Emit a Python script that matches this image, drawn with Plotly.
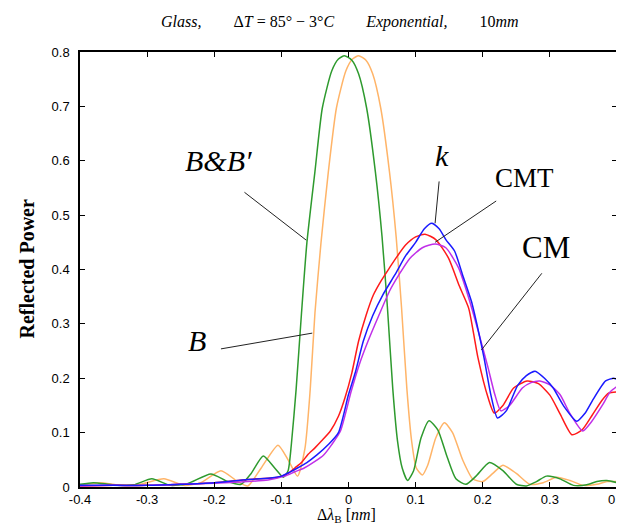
import plotly.graph_objects as go

# ---------------- data ----------------
# B&B' (green)
x_green = [-0.40, -0.38, -0.35, -0.32, -0.293, -0.265, -0.24, -0.205, -0.18, -0.16, -0.145, -0.127, -0.11,
           -0.097, -0.09, -0.085, -0.078, -0.07, -0.062, -0.05, -0.039, -0.025, -0.015, -0.006, 0.005, 0.015,
           0.027, 0.04, 0.05, 0.058, 0.066, 0.073, 0.08, 0.088, 0.097, 0.108, 0.12, 0.133, 0.147, 0.16, 0.175,
           0.19, 0.21, 0.23, 0.25, 0.265, 0.28, 0.295, 0.315, 0.335, 0.355, 0.37, 0.385, 0.40]
y_green = [0.005, 0.008, 0.004, 0.004, 0.015, 0.003, 0.006, 0.024, 0.01, 0.005, 0.025, 0.057, 0.035,
           0.018, 0.03, 0.08, 0.18, 0.32, 0.449, 0.58, 0.697, 0.765, 0.787, 0.793, 0.785, 0.76,
           0.697, 0.58, 0.46, 0.33, 0.18, 0.085, 0.035, 0.012, 0.03, 0.09, 0.122, 0.105, 0.055, 0.015, 0.005,
           0.02, 0.045, 0.03, 0.005, 0.002, 0.01, 0.02, 0.015, 0.003, 0.004, 0.01, 0.012, 0.008]

# B (orange)
x_orange = [-0.40, -0.37, -0.34, -0.31, -0.275, -0.245, -0.22, -0.19, -0.165, -0.15, -0.13, -0.105, -0.09,
            -0.076, -0.065, -0.057, -0.05, -0.041, -0.03, -0.018, -0.004, 0.006, 0.015, 0.026, 0.036, 0.048,
            0.061, 0.071, 0.079, 0.087, 0.094, 0.101, 0.11, 0.118, 0.13, 0.143, 0.155, 0.17, 0.185, 0.2,
            0.215, 0.23, 0.25, 0.27, 0.29, 0.31, 0.33, 0.35, 0.37, 0.385, 0.40]
y_orange = [0.003, 0.008, 0.003, 0.005, 0.015, 0.003, 0.008, 0.03, 0.01, 0.002, 0.035, 0.077, 0.05,
            0.02, 0.07, 0.18, 0.32, 0.449, 0.58, 0.697, 0.765, 0.787, 0.793, 0.785, 0.76, 0.697,
            0.58, 0.46, 0.33, 0.18, 0.085, 0.035, 0.022, 0.04, 0.09, 0.118, 0.1, 0.05, 0.015, 0.01,
            0.025, 0.04, 0.025, 0.005, 0.008, 0.018, 0.012, 0.003, 0.005, 0.01, 0.01]

# CMT (red)
x_red = [-0.40, -0.35, -0.30, -0.25, -0.20, -0.15, -0.12, -0.105, -0.09, -0.08, -0.07, -0.061, -0.05, -0.04,
         -0.027, -0.015, -0.005, 0.005, 0.015, 0.026, 0.037, 0.049, 0.061, 0.073, 0.085, 0.1, 0.114, 0.13,
         0.149, 0.165, 0.179, 0.186, 0.193, 0.208, 0.217, 0.23, 0.246, 0.266, 0.283, 0.3, 0.315, 0.333,
         0.348, 0.363, 0.378, 0.388, 0.40]
y_red = [0.002, 0.003, 0.003, 0.005, 0.008, 0.014, 0.016, 0.018, 0.025, 0.035, 0.045, 0.059, 0.072, 0.085,
         0.103, 0.13, 0.165, 0.21, 0.268, 0.315, 0.353, 0.38, 0.403, 0.425, 0.445, 0.46, 0.465, 0.455,
         0.421, 0.37, 0.329, 0.285, 0.237, 0.164, 0.136, 0.15, 0.182, 0.195, 0.19, 0.169, 0.135, 0.096,
         0.105, 0.132, 0.16, 0.173, 0.175]

# CM (magenta)
x_mag = [-0.40, -0.35, -0.30, -0.25, -0.20, -0.15, -0.12, -0.095, -0.08, -0.066, -0.05, -0.037, -0.025,
         -0.012, 0.004, 0.016, 0.029, 0.045, 0.061, 0.075, 0.091, 0.11, 0.129, 0.145, 0.164, 0.176, 0.188,
         0.198, 0.208, 0.218, 0.227, 0.24, 0.259, 0.272, 0.285, 0.3, 0.315, 0.33, 0.349, 0.362, 0.378,
         0.39, 0.40]
y_mag = [0.002, 0.003, 0.003, 0.005, 0.007, 0.01, 0.013, 0.02, 0.028, 0.035, 0.047, 0.059, 0.078,
         0.103, 0.176, 0.225, 0.268, 0.315, 0.36, 0.39, 0.42, 0.44, 0.447, 0.44, 0.403, 0.36, 0.31,
         0.265, 0.219, 0.17, 0.14, 0.15, 0.182, 0.192, 0.195, 0.188, 0.17, 0.135, 0.103, 0.12, 0.15,
         0.175, 0.185]

# k (blue)
x_blue = [-0.40, -0.35, -0.30, -0.25, -0.20, -0.15, -0.12, -0.1, -0.088, -0.076, -0.062, -0.047, -0.03,
          -0.015, 0.0, 0.01, 0.022, 0.036, 0.051, 0.069, 0.085, 0.1, 0.113, 0.124, 0.135, 0.145, 0.158,
          0.17, 0.183, 0.193, 0.202, 0.212, 0.222, 0.235, 0.252, 0.265, 0.278, 0.292, 0.305, 0.32, 0.34,
          0.352, 0.363, 0.383, 0.395, 0.40]
y_blue = [0.003, 0.003, 0.003, 0.005, 0.008, 0.014, 0.016, 0.02, 0.027, 0.035, 0.045, 0.059, 0.078,
          0.1, 0.17, 0.21, 0.268, 0.315, 0.353, 0.39, 0.425, 0.45, 0.475, 0.485, 0.475, 0.455, 0.434,
          0.39, 0.342, 0.29, 0.237, 0.17, 0.127, 0.14, 0.187, 0.205, 0.213, 0.2, 0.182, 0.15, 0.121,
          0.135, 0.158, 0.195, 0.2, 0.198]

x_tickvals = [-0.4, -0.3, -0.2, -0.1, 0, 0.1, 0.2, 0.3, 0.4]
x_ticktext = ["-0.4", "-0.3", "-0.2", "-0.1", "0", "0.1", "0.2", "0.3", "0.4"]
y_tickvals = [0, 0.1, 0.2, 0.3, 0.4, 0.5, 0.6, 0.7, 0.8]
y_ticktext = ["0", "0.1", "0.2", "0.3", "0.4", "0.5", "0.6", "0.7", "0.8"]

# ---------------- figure ----------------
fig = go.Figure()
series = [
    (x_orange, y_orange, "#ffb468", "B"),
    (x_green, y_green, "#2e9a2e", "B&B'"),
    (x_red, y_red, "#ff1a1a", "CMT"),
    (x_mag, y_mag, "#c030e8", "CM"),
    (x_blue, y_blue, "#1a1aff", "k"),
]
for xs, ys, col, nm in series:
    fig.add_trace(go.Scatter(x=xs, y=ys, mode="lines", name=nm,
                             line=dict(color=col, width=1.5, shape="spline", smoothing=0.6)))

serif = "Liberation Serif, Times New Roman, serif"
ann = []
# label texts
ann.append(dict(x=-0.193, y=0.6, text="<i>B&amp;B′</i>", font=dict(family=serif, size=30, color="black")))
ann.append(dict(x=-0.225, y=0.27, text="<i>B</i>", font=dict(family=serif, size=30, color="black")))
ann.append(dict(x=0.139, y=0.61, text="<i>k</i>", font=dict(family=serif, size=30, color="black")))
ann.append(dict(x=0.262, y=0.569, text="CMT", font=dict(family=serif, size=27, color="black")))
ann.append(dict(x=0.294, y=0.44, text="CM", font=dict(family=serif, size=31, color="black")))
for a in ann:
    a.update(xref="x", yref="y", showarrow=False, xanchor="center", yanchor="middle")

sp = "\u2003\u2003"
# title and axis titles
ann.append(dict(xref="paper", yref="paper", x=0.485, y=1, yshift=30, showarrow=False,
                xanchor="center", yanchor="middle",
                text=f"<i>Glass,</i>{sp}Δ<i>T</i> = 85° − 3°<i>C</i>{sp}<i>Exponential,</i>{sp}10<i>mm</i>",
                font=dict(family=serif, size=16, color="black")))
ann.append(dict(xref="paper", yref="paper", x=0, y=0.5, xshift=-54, showarrow=False,
                xanchor="center", yanchor="middle", textangle=-90,
                text="<b>Reflected Power</b>", font=dict(family=serif, size=20, color="black")))
ann.append(dict(xref="paper", yref="paper", x=0.496, y=0, yshift=-28, showarrow=False,
                xanchor="center", yanchor="middle",
                text="Δ<i>λ</i><sub>B</sub> [<i>nm</i>]", font=dict(family=serif, size=16, color="black")))

line_style = dict(color="#222222", width=1)
shapes = [
    dict(type="line", xref="x", yref="y", x0=-0.155, y0=0.542, x1=-0.063, y1=0.454, line=line_style),
    dict(type="line", xref="x", yref="y", x0=-0.19, y0=0.254, x1=-0.054, y1=0.283, line=line_style),
    dict(type="line", xref="x", yref="y", x0=0.135, y0=0.562, x1=0.129, y1=0.485, line=line_style),
    dict(type="line", xref="x", yref="y", x0=0.22, y0=0.526, x1=0.129, y1=0.45, line=line_style),
    dict(type="line", xref="x", yref="y", x0=0.288, y0=0.393, x1=0.198, y1=0.252, line=line_style),
]

axis_common = dict(showgrid=False, zeroline=False, showline=True, linecolor="black", linewidth=1.5,
                   mirror="ticks", ticks="inside", ticklen=5, tickwidth=1, tickcolor="black",
                   ticklabeloverflow="allow",
                   tickfont=dict(family="Liberation Sans, Arial, sans-serif", size=13, color="black"))

fig.update_layout(
    width=624, height=525,
    margin=dict(l=72, r=6, t=44, b=46),
    paper_bgcolor="white", plot_bgcolor="white",
    showlegend=False,
    annotations=ann,
    shapes=shapes,
    xaxis=dict(range=[-0.4, 0.4], tickvals=x_tickvals, ticktext=x_ticktext, **axis_common),
    yaxis=dict(range=[0, 0.8], tickvals=y_tickvals, ticktext=y_ticktext, ticklabelstandoff=6, **axis_common),
)

fig.write_html("out.html")
